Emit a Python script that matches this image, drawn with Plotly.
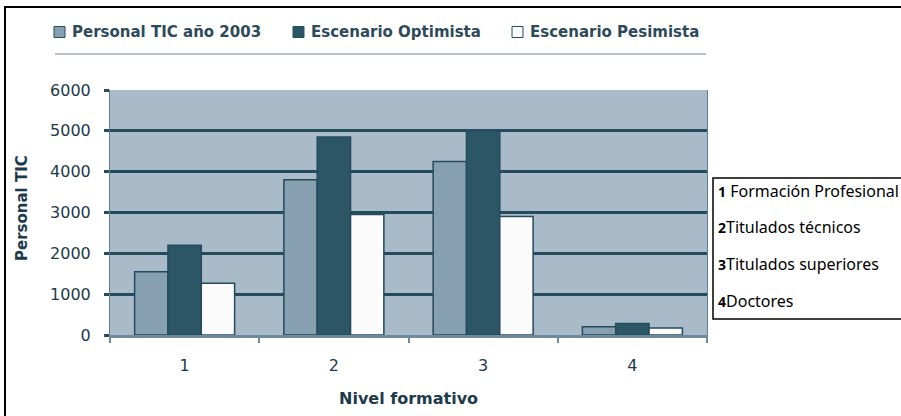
import plotly.graph_objects as go

# Nivel formativo (categorías del eje X)
niveles = ["1", "2", "3", "4"]

# Personal TIC por nivel formativo
personal_2003 = [1550, 3800, 4250, 200]
escenario_optimista = [2200, 4850, 5000, 280]
escenario_pesimista = [1270, 2950, 2900, 170]

series_names = ["Personal TIC año 2003", "Escenario Optimista", "Escenario Pesimista"]
series_values = [personal_2003, escenario_optimista, escenario_pesimista]
series_colors = ["#87a0b1", "#2c5566", "#fbfbfb"]

y_ticks = [0, 1000, 2000, 3000, 4000, 5000, 6000]

leyenda_niveles = [
    ("1", " Formación Profesional"),
    ("2", "Titulados técnicos"),
    ("3", "Titulados superiores"),
    ("4", "Doctores"),
]

W, H = 901, 416
L, R, T, B = 110, 707, 90, 335
DARK = "#244b5e"


def px(x):
    return (x - L) / (R - L)


def py(y):
    return (B - y) / (B - T)


fig = go.Figure()
for name, vals, col in zip(series_names, series_values, series_colors):
    fig.add_trace(go.Bar(
        x=niveles, y=vals, name=name,
        marker=dict(color=col, line=dict(color=DARK, width=1.5)),
        showlegend=False,
    ))

fig.update_layout(
    width=W, height=H,
    margin=dict(l=L, r=W - R, t=T, b=H - B, pad=0),
    paper_bgcolor="white",
    plot_bgcolor="#a9bac8",
    barmode="group",
    bargap=0.33,
    bargroupgap=0,
    font=dict(family="DejaVu Sans", color="#1d3a4a"),
)

fig.update_yaxes(
    range=[0, 6000], tickvals=y_ticks, ticktext=[str(v) for v in y_ticks],
    showgrid=True, gridcolor=DARK, gridwidth=3,
    zeroline=False,
    ticks="outside", ticklen=5, tickwidth=3, tickcolor=DARK,
    showline=True, linecolor="#5f7f90", linewidth=1, mirror=True,
    tickfont=dict(family="DejaVu Sans", size=16, color="#1d3a4a"),
    ticklabelstandoff=10,
)
fig.update_xaxes(
    type="category",
    tickson="boundaries",
    ticks="outside", ticklen=5, tickwidth=2, tickcolor="#6f8a9a",
    showline=True, linecolor="#6f8a9a", linewidth=3,
    tickfont=dict(family="DejaVu Sans", size=16, color="#1d3a4a"),
    ticklabelstandoff=14,
)

shapes = []
annotations = []

# Marco exterior del gráfico
shapes.append(dict(type="rect", xref="paper", yref="paper",
                   x0=px(5), x1=px(960), y0=py(470), y1=py(7),
                   line=dict(color="black", width=2), fillcolor="rgba(0,0,0,0)", layer="below"))

# Leyenda de series
legend_x = [54, 293, 512]
for name, col, x0 in zip(series_names, series_colors, legend_x):
    shapes.append(dict(type="rect", xref="paper", yref="paper",
                       x0=px(x0), x1=px(x0 + 11), y0=py(37.5), y1=py(26.5),
                       line=dict(color=DARK, width=1), fillcolor=col))
    annotations.append(dict(text=f"<b>{name}</b>", xref="paper", yref="paper",
                            x=px(x0 + 16), y=py(32), xanchor="left", yanchor="middle",
                            showarrow=False,
                            font=dict(family="DejaVu Sans", size=15, color="#2e4a5a")))

# Línea bajo la leyenda
shapes.append(dict(type="line", xref="paper", yref="paper",
                   x0=px(55), x1=px(706), y0=py(54), y1=py(54),
                   line=dict(color="#b4c3cf", width=2)))

# Títulos de ejes
annotations.append(dict(text="<b>Nivel formativo</b>", xref="paper", yref="paper",
                        x=0.5, y=py(398), xanchor="center", yanchor="middle", showarrow=False,
                        font=dict(family="DejaVu Sans", size=16, color="#1d3a4a")))
annotations.append(dict(text="<b>Personal TIC</b>", xref="paper", yref="paper",
                        x=px(22), y=py(208), xanchor="center", yanchor="middle", showarrow=False,
                        textangle=-90,
                        font=dict(family="DejaVu Sans", size=15, color="#1d3a4a")))

# Cuadro con los niveles formativos
shapes.append(dict(type="rect", xref="paper", yref="paper",
                   x0=px(713), x1=px(960), y0=py(319), y1=py(178),
                   line=dict(color="black", width=1.5), fillcolor="white"))
for (num, txt), yy in zip(leyenda_niveles, [191, 227, 264, 301]):
    annotations.append(dict(text=f"<b><span style='font-size:14px'>{num}</span></b>{txt}",
                            xref="paper", yref="paper",
                            x=px(716), y=py(yy), xanchor="left", yanchor="middle",
                            showarrow=False,
                            font=dict(family="Noto Sans", size=16, color="black")))

fig.update_layout(shapes=shapes, annotations=annotations)

fig.write_html("out.html")
